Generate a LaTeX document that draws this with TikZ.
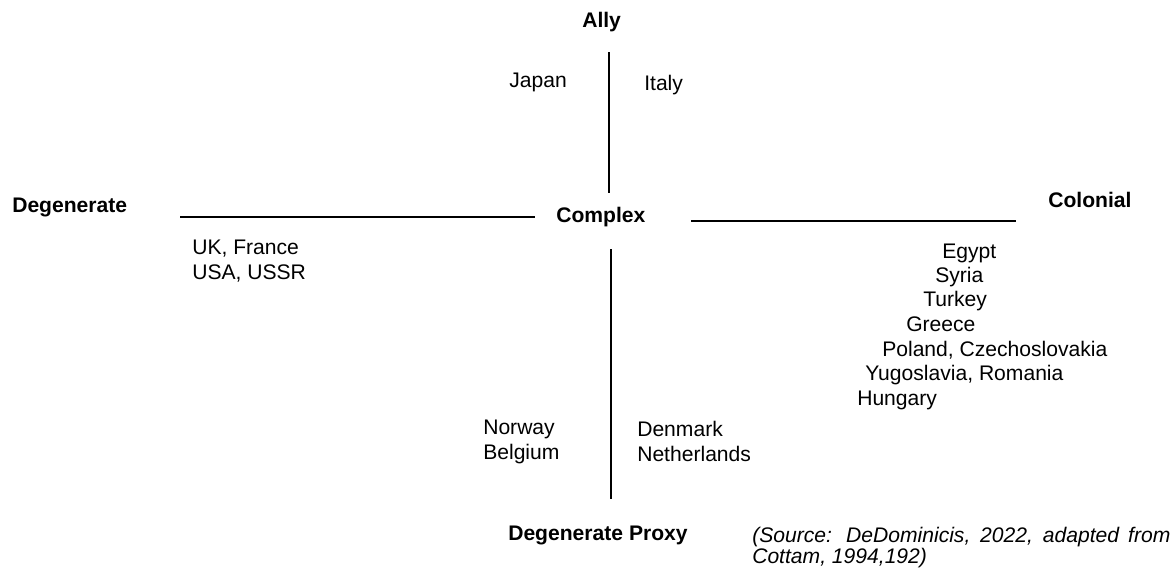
\documentclass[tikz,border=0pt]{standalone}
\usepackage{fontspec}
\setmainfont{Liberation Sans}

\begin{document}
\begin{tikzpicture}[
  x=0.025cm,
  y=-0.025cm,
  line cap=butt,
  pole/.style={
    font=\fontsize{15}{17.4}\selectfont\bfseries,
    inner sep=0pt,
    anchor=base west
  },
  country/.style={
    font=\fontsize{15}{17.4}\selectfont,
    inner sep=0pt,
    align=left,
    anchor=base west
  },
  axis/.style={
    line width=1.4pt,
    draw=black
  },
  source/.style={
    font=\fontsize{15}{15.6}\selectfont\itshape,
    inner sep=0pt,
    text width=10.45cm,
    align=justify,
    anchor=base west
  }
]

\useasboundingbox (0,0) rectangle (1171,568);

% =========================================================
% Poles of the typology
% =========================================================

\node[pole] (ally) at (582,27) {Ally};
\node[pole] (degen) at (12,212) {Degenerate};
\node[pole] (complex) at (556,222) {Complex};
\node[pole] (colonial) at (1048,207) {Colonial};
\node[pole] (proxy) at (508,540) {Degenerate Proxy};

% ---------------- Axes ----------------

\coordinate (ntop) at (609,52);
\coordinate (nbot) at (609,193);
\coordinate (wleft) at (180,217);
\coordinate (wright) at (535,217);
\coordinate (eleft) at (691,221);
\coordinate (eright) at (1016,221);
\coordinate (stop) at (611,249);
\coordinate (sbot) at (611,499);

\draw[axis] (ntop) -- (nbot);
\draw[axis] (wleft) -- (wright);
\draw[axis] (eleft) -- (eright);
\draw[axis] (stop) -- (sbot);

% =========================================================
% Countries (multi-line nodes sit on their last baseline)
% =========================================================

\node[country] (japan) at (509,87) {Japan};
\node[country] (italy) at (644,90) {Italy};

\node[country] (ukfr) at (192,279)
{UK, France\\USA, USSR};

% ---------------- Colonial side ----------------

\node[country] (egypt) at (942,258) {Egypt};
\node[country] (syria) at (935,282) {Syria};
\node[country] (turkey) at (923,306) {Turkey};
\node[country] (greece) at (906,331) {Greece};
\node[country] (poland) at (882,356) {Poland, Czechoslovakia};
\node[country] (yugo) at (865,380) {Yugoslavia, Romania};
\node[country] (hungary) at (857,405) {Hungary};

% ---------------- Proxy side ----------------

\node[country] (norway) at (483,459)
{Norway\\Belgium};

\node[country] (denmark) at (637,461)
{Denmark\\Netherlands};

% =========================================================
% Source note
% =========================================================

\node[source] (note) at (752,542)
{(Source: DeDominicis, 2022, adapted from Cottam, 1994,192)};

\end{tikzpicture}
\end{document}
